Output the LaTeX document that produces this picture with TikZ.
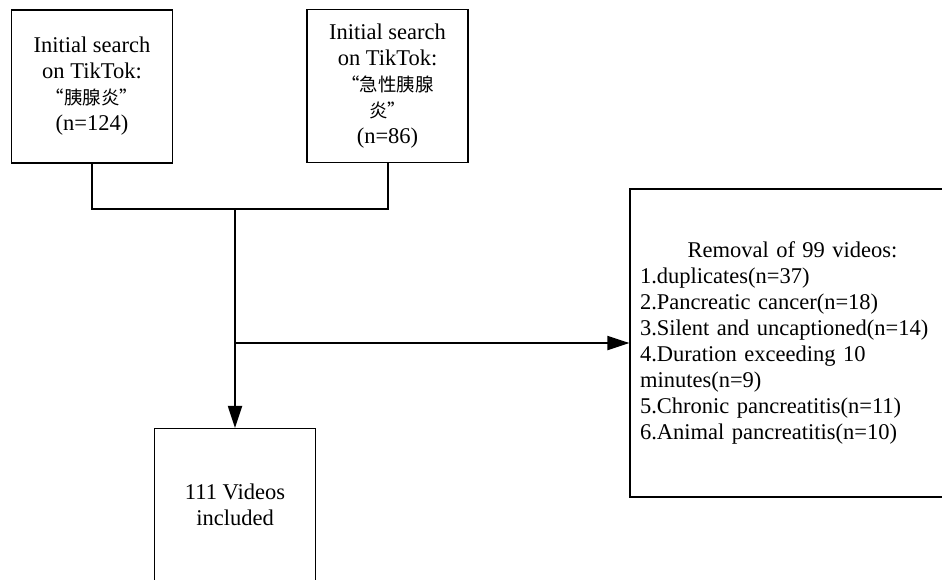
\documentclass[tikz,border=0pt]{standalone}
\usepackage{fontspec}
\setmainfont{Liberation Serif}
\newfontfamily\cjk[Scale=0.82]{Noto Sans CJK SC}
\usetikzlibrary{arrows.meta}
\tikzset{
  box/.style={draw,line width=1.2pt,align=center,inner sep=0pt},
  link/.style={line width=2pt},
  tip/.style={-{Triangle[length=22pt,width=14pt]}}
}
\begin{document}
\begin{tikzpicture}[x=1pt,y=-1pt,font=\fontsize{22.5}{26}\selectfont]
\pgfmathsetmacro{\bw}{161}
\pgfmathsetmacro{\bh}{153}
\clip(0,0) rectangle (942,579);
\node[box,minimum width=\bw pt,minimum height=\bh pt](s1) at (92,86.5)
  {Initial search\\on TikTok:\\{\cjk “胰腺炎”}\\(n=124)};
\node[box,minimum width=\bw pt,minimum height=\bh pt](s2) at (387.5,86)
  {Initial search\\on TikTok:\\{\cjk “急性胰腺}\\{\cjk 炎”}\\(n=86)};
\node[box,minimum width=\bw pt,minimum height=\bh pt](inc) at (235,505)
  {111 Videos\\included};
\node[box,minimum width=325pt,minimum height=308pt,text width=305pt,align=left](rem) at (792.5,343)
  {\makebox[\linewidth]{Removal of 99 videos:}\\1.duplicates(n=37)\\2.Pancreatic cancer(n=18)\\
   3.Silent and uncaptioned(n=14)\\4.Duration exceeding 10\\minutes(n=9)\\
   5.Chronic pancreatitis(n=11)\\6.Animal pancreatitis(n=10)};
\coordinate(j) at (235,209);
\draw[link](s1.south)|-(j)-|(s2.south);
\draw[link,tip](j)--(inc.north);
\draw[link,tip](j|-rem.west)--(rem.west);
\end{tikzpicture}
\end{document}
